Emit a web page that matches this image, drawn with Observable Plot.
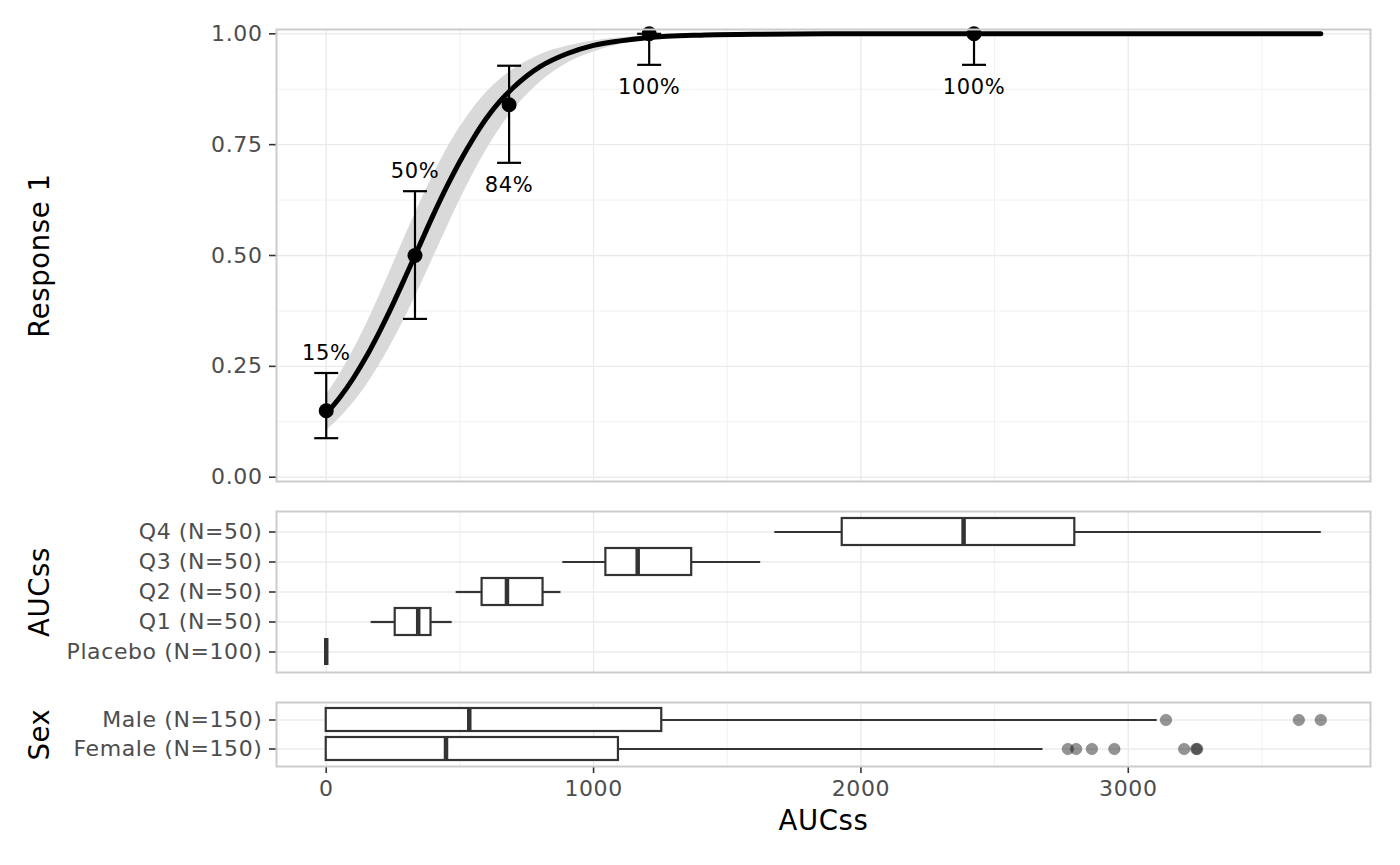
<!DOCTYPE html>
<html><head><meta charset="utf-8">
<script src="https://cdn.jsdelivr.net/npm/d3@7"></script>
<script src="https://cdn.jsdelivr.net/npm/@observablehq/plot@0.6"></script>
<style>
body{margin:0;background:#fff;}
#chart{width:1400px;}
#chart svg{display:block;}
</style></head><body><div id="chart"></div>
<script>
// ---------- Top panel: exposure-response ----------
const doseX = [0, 332, 684, 1208, 2423];
const respY = [0.15, 0.50, 0.84, 1.00, 1.00];
const ciLo = [0.088, 0.357, 0.709, 0.930, 0.930];
const ciHi = [0.235, 0.645, 0.928, 1.000, 1.000];
const pctLabels = ["15%", "50%", "84%", "100%", "100%"];
const labelSide = ["above", "above", "below", "below", "below"];

const curveX = [0,50,100,150,200,250,300,350,400,450,500,550,600,650,700,750,800,900,1000,1100,1200,1400,1600,2000,2500,3000,3720];
const curveY = [0.143,0.179,0.222,0.272,0.329,0.391,0.457,0.524,0.591,0.654,0.712,0.764,0.810,0.848,0.879,0.905,0.926,0.955,0.974,0.984,0.991,0.997,0.999,1.000,1.000,1.000,1.000];
const bandLo = [0.105,0.133,0.167,0.207,0.254,0.307,0.366,0.429,0.495,0.561,0.625,0.685,0.739,0.787,0.828,0.862,0.891,0.933,0.959,0.976,0.986,0.995,0.998,0.9994,1,1,1];
const bandHi = [0.185,0.231,0.285,0.345,0.411,0.480,0.550,0.618,0.681,0.739,0.789,0.832,0.868,0.897,0.920,0.938,0.953,0.972,0.984,0.991,0.995,0.998,0.9995,1,1,1,1];

const yTicks = [0, 0.25, 0.5, 0.75, 1];
const yMinor = [0.125, 0.375, 0.625, 0.875];
const xTicks = [0, 1000, 2000, 3000];
const xMinor = [500, 1500, 2500, 3500];

// ---------- Middle panel: AUCss quartiles ----------
const groups = ["Q4 (N=50)", "Q3 (N=50)", "Q2 (N=50)", "Q1 (N=50)", "Placebo (N=100)"];
const gLow  = [1678, 885, 486, 168, 0];
const gQ1   = [1930, 1046, 583, 258, 0];
const gMed  = [2384, 1165, 676, 344, 0];
const gQ3   = [2800, 1367, 811, 392, 0];
const gHigh = [3722, 1625, 878, 471, 0];

// ---------- Bottom panel: Sex ----------
const sexGroups = ["Male (N=150)", "Female (N=150)"];
const sLow  = [0, 0];
const sQ1   = [0, 0];
const sMed  = [535, 448];
const sQ3   = [1255, 1093];
const sHigh = [3108, 2681];
const outlierGroup = ["Male (N=150)","Male (N=150)","Male (N=150)","Female (N=150)","Female (N=150)","Female (N=150)","Female (N=150)","Female (N=150)","Female (N=150)","Female (N=150)"];
const outlierX = [3141, 3638, 3720, 2774, 2805, 2864, 2948, 3209, 3254, 3258];

// ---------- build tables ----------
const pts = doseX.map((x, i) => ({x, y: respY[i], lo: ciLo[i], hi: ciHi[i], label: pctLabels[i], side: labelSide[i]}));
const curve = curveX.map((x, i) => ({x, y: curveY[i], lo: bandLo[i], hi: bandHi[i]}));
const boxes = groups.map((g, i) => ({g, low: gLow[i], q1: gQ1[i], med: gMed[i], q3: gQ3[i], high: gHigh[i]}));
const sexBoxes = sexGroups.map((g, i) => ({g, low: sLow[i], q1: sQ1[i], med: sMed[i], q3: sQ3[i], high: sHigh[i]}));
const outliers = outlierX.map((x, i) => ({g: outlierGroup[i], x}));

const font = "DejaVu Sans";
const W = 1400, ML = 276, MR = 30;
const xDomain = [-186, 3906];
const gridC = "#ebebeb", borderC = "#cccccc", inkC = "#333333", tickTextC = "#4d4d4d";
const lineW = 2.2;
const capSymbol = {draw(ctx, size) { const w = Math.sqrt(size / Math.PI); ctx.moveTo(-w, 0); ctx.lineTo(w, 0); }};

const style = {fontFamily: font, background: "white", overflow: "visible", letterSpacing: "0.6px"};
const gridMarks = () => [
  Plot.gridX(xMinor, {stroke: gridC, strokeOpacity: 1, strokeWidth: 0.7}),
  Plot.gridX(xTicks, {stroke: gridC, strokeOpacity: 1, strokeWidth: 1.4})
];
const axisStyle = {tickSize: 7, tickPadding: 7, fontSize: 22, stroke: inkC, fill: tickTextC, strokeWidth: 1.6};
const yTitle = (t) => Plot.text([t], {text: d => d, frameAnchor: "left", textAnchor: "middle", lineAnchor: "middle", dx: -236, rotate: -90, fontSize: 27.5, fill: "black"});

const topPlot = Plot.plot({
  width: W, height: 496, marginLeft: ML, marginRight: MR, marginTop: 29, marginBottom: 15,
  style,
  x: {domain: xDomain, axis: null},
  y: {domain: [-0.0097, 1.0097], axis: null},
  marks: [
    ...gridMarks(),
    Plot.gridY(yMinor, {stroke: gridC, strokeOpacity: 1, strokeWidth: 0.7}),
    Plot.gridY(yTicks, {stroke: gridC, strokeOpacity: 1, strokeWidth: 1.4}),
    Plot.areaY(curve, {x: "x", y1: "lo", y2: "hi", fill: "#d9d9d9", curve: "monotone-x"}),
    Plot.ruleX(pts, {x: "x", y1: "lo", y2: "hi", stroke: "black", strokeWidth: lineW}),
    Plot.dot(pts, {x: "x", y: "lo", symbol: capSymbol, r: 12, stroke: "black", strokeWidth: lineW, fill: "none"}),
    Plot.dot(pts, {x: "x", y: "hi", symbol: capSymbol, r: 12, stroke: "black", strokeWidth: lineW, fill: "none"}),
    Plot.line(curve, {x: "x", y: "y", stroke: "black", strokeWidth: 5, curve: "monotone-x"}),
    Plot.dot(pts, {x: "x", y: "y", r: 7.5, fill: "black"}),
    Plot.text(pts.filter(d => d.side === "above"), {x: "x", y: "hi", text: "label", dy: -20, fontSize: 21, fill: "black"}),
    Plot.text(pts.filter(d => d.side === "below"), {x: "x", y: "lo", text: "label", dy: 22, fontSize: 21, fill: "black"}),
    Plot.axisY(yTicks, {...axisStyle, tickFormat: d3.format(".2f"), label: null}),
    Plot.frame({stroke: borderC, strokeWidth: 2}),
    yTitle("Response 1")
  ]
});

const midPlot = Plot.plot({
  width: W, height: 191, marginLeft: ML, marginRight: MR, marginTop: 15, marginBottom: 15,
  style,
  x: {domain: xDomain, axis: null},
  y: {type: "band", domain: groups, paddingInner: 0.1, paddingOuter: 0.147, axis: null},
  marks: [
    ...gridMarks(),
    Plot.gridY({stroke: gridC, strokeOpacity: 1, strokeWidth: 1.4}),
    Plot.ruleY(boxes, {y: "g", x1: "low", x2: "q1", stroke: inkC, strokeWidth: lineW}),
    Plot.ruleY(boxes, {y: "g", x1: "q3", x2: "high", stroke: inkC, strokeWidth: lineW}),
    Plot.barX(boxes, {y: "g", x1: "q1", x2: "q3", fill: "white", stroke: inkC, strokeWidth: lineW}),
    Plot.tickX(boxes, {y: "g", x: "med", stroke: inkC, strokeWidth: 4.5}),
    Plot.axisY({...axisStyle, label: null}),
    Plot.frame({stroke: borderC, strokeWidth: 2}),
    yTitle("AUCss")
  ]
});

const botPlot = Plot.plot({
  width: W, height: 178, marginLeft: ML, marginRight: MR, marginTop: 15, marginBottom: 99,
  style,
  x: {domain: xDomain, axis: null},
  y: {type: "band", domain: sexGroups, paddingInner: 0.22, paddingOuter: 0.213, axis: null},
  marks: [
    ...gridMarks(),
    Plot.gridY({stroke: gridC, strokeOpacity: 1, strokeWidth: 1.4}),
    Plot.ruleY(sexBoxes, {y: "g", x1: "low", x2: "q1", stroke: inkC, strokeWidth: lineW}),
    Plot.ruleY(sexBoxes, {y: "g", x1: "q3", x2: "high", stroke: inkC, strokeWidth: lineW}),
    Plot.barX(sexBoxes, {y: "g", x1: "q1", x2: "q3", fill: "white", stroke: inkC, strokeWidth: lineW}),
    Plot.tickX(sexBoxes, {y: "g", x: "med", stroke: inkC, strokeWidth: 4.5}),
    Plot.dot(outliers, {x: "x", y: "g", r: 5.8, fill: "black", fillOpacity: 0.42, stroke: "black", strokeOpacity: 0.2, strokeWidth: 1}),
    Plot.axisY({...axisStyle, label: null}),
    Plot.axisX(xTicks, {...axisStyle, tickFormat: d3.format("d"), label: null}),
    Plot.frame({stroke: borderC, strokeWidth: 2}),
    yTitle("Sex"),
    Plot.text(["AUCss"], {text: d => d, frameAnchor: "bottom", lineAnchor: "middle", dy: 55, fontSize: 27.5, fill: "black"})
  ]
});

const chart = document.getElementById("chart");
chart.append(topPlot, midPlot, botPlot);
</script></body></html>
